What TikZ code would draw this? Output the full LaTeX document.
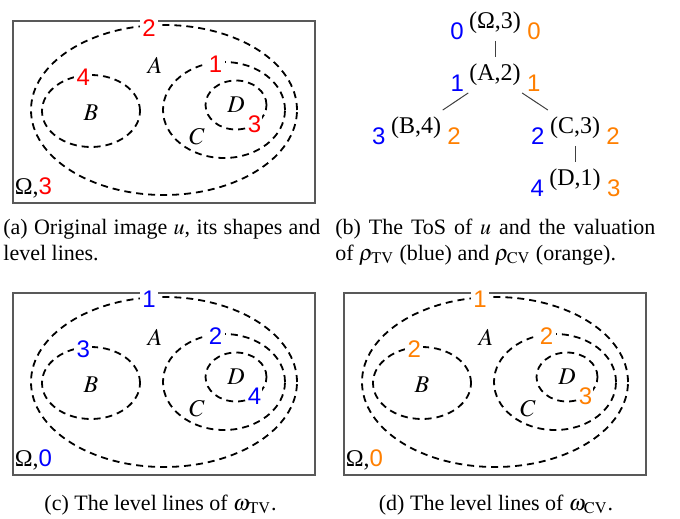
\documentclass[tikz,border=0pt]{standalone}
\usepackage{mathptmx}
\usepackage[no-math]{fontspec}
\setmainfont{Liberation Serif}
\newfontfamily\numfont{Liberation Sans}
\usetikzlibrary{shapes.geometric}

\definecolor{tvblue}{RGB}{0,0,255}
\definecolor{cvorange}{RGB}{255,127,0}
\definecolor{llred}{RGB}{255,0,0}

\tikzset{
  framebox/.style={draw=black!65, line width=0.6pt, minimum width=151pt, minimum height=91pt, inner sep=0},
  levelline/.style={draw, ellipse, dash pattern=on 3.5pt off 2.5pt, line width=0.9pt, inner sep=0},
  shapename/.style={font=\fontsize{12}{14}\selectfont},
  levelnum/.style={font=\numfont\fontsize{12}{14}\selectfont, fill=white, inner sep=1.2pt},
  treenode/.style={font=\fontsize{12}{14}\selectfont},
  tvnum/.style={font=\numfont\fontsize{12}{14}\selectfont, text=tvblue, inner sep=0, anchor=east},
  cvnum/.style={font=\numfont\fontsize{12}{14}\selectfont, text=cvorange, inner sep=0, anchor=west},
  treeedge/.style={draw=black!75, line width=0.5pt},
  captext/.style={font=\fontsize{11}{13}\selectfont, inner sep=0}
}

% one image with its shapes: name, shift, colour, values of Omega, A, B, C, D
\newcommand{\levelpanel}[8]{%
  \begin{scope}[shift={(#2)}]
    \node[framebox] (#1box) at (164,112) {};
    % level lines
    \node[levelline, minimum width=133pt, minimum height=85pt] (#1A) at (164,110) {};
    \node[levelline, minimum width=49pt, minimum height=36pt] (#1B) at (91,111) {};
    \node[levelline, minimum width=61pt, minimum height=48pt] (#1C) at (224,110) {};
    \node[levelline, minimum width=30.5pt, minimum height=24.5pt] (#1D) at (236,105) {};
    % shapes
    \node[shapename] (#1nA) at (155,65) {$A$};
    \node[shapename] (#1nB) at (91,113) {$B$};
    \node[shapename] (#1nC) at (197,137) {$C$};
    \node[shapename] (#1nD) at (236,105) {$D$};
    % values
    \node[levelnum, text=#3, yshift=-1.5pt] (#1vA) at (#1A.100) {#5};
    \node[levelnum, text=#3, yshift=-1.3pt] (#1vB) at (#1B.102) {#6};
    \node[levelnum, text=#3, yshift=-1.3pt] (#1vC) at (#1C.100) {#7};
    \node[levelnum, text=#3, inner sep=0.6pt, yshift=0.5pt] (#1vD) at (#1D.-48) {#8};
    \node[shapename, anchor=base west, inner sep=0] (#1vO) at ([xshift=1pt,yshift=4.5pt]#1box.south west) {Ω,{\numfont\color{#3}#4}};
  \end{scope}}

\begin{document}
\begin{tikzpicture}[x=0.5pt, y=-0.5pt]
    \useasboundingbox (0,0) rectangle (680,519);

    % (a) original image
    \levelpanel{a}{0,0}{llred}{3}{2}{4}{1}{3}

    % (b) tree of shapes
    \node[treenode] (root) at (495,23) {(Ω,3)};
    \node[treenode] (tA) at (495,75) {(A,2)};
    \node[treenode] (tB) at (416,128) {(B,4)};
    \node[treenode] (tC) at (575,128) {(C,3)};
    \node[treenode] (tD) at (575,180) {(D,1)};
    \draw[treeedge] (root) -- (tA);
    \draw[treeedge] (tA) -- (tB);
    \draw[treeedge] (tA) -- (tC);
    \draw[treeedge] (tC) -- (tD);

    % rho_TV and rho_CV
    \node[tvnum] (tvroot) at ([xshift=1pt,yshift=-4pt]root.west) {0};
    \node[cvnum] (cvroot) at ([xshift=-0.5pt,yshift=-4pt]root.east) {0};
    \node[tvnum] (tvA) at ([xshift=1pt,yshift=-4pt]tA.west) {1};
    \node[cvnum] (cvA) at ([xshift=-0.5pt,yshift=-4pt]tA.east) {1};
    \node[tvnum] (tvB) at ([xshift=1pt,yshift=-4pt]tB.west) {3};
    \node[cvnum] (cvB) at ([xshift=-0.5pt,yshift=-4pt]tB.east) {2};
    \node[tvnum] (tvC) at ([xshift=1pt,yshift=-4pt]tC.west) {2};
    \node[cvnum] (cvC) at ([xshift=-0.5pt,yshift=-4pt]tC.east) {2};
    \node[tvnum] (tvD) at ([xshift=1pt,yshift=-4pt]tD.west) {4};
    \node[cvnum] (cvD) at ([xshift=-0.5pt,yshift=-4pt]tD.east) {3};

    % (c) and (d) level lines of omega
    \levelpanel{c}{0,272}{tvblue}{0}{1}{3}{2}{4}
    \levelpanel{d}{331,272}{cvorange}{0}{1}{2}{2}{3}

    % captions
    \node[captext, anchor=base west] (capa1) at (3,234) {\makebox[158.5pt][s]{(a) Original image $u$, its shapes and}};
    \node[captext, anchor=base west] (capa2) at (3,260) {level lines.};
    \node[captext, anchor=base west] (capb1) at (335,234) {\makebox[160pt][s]{(b) The ToS of $u$ and the valuation}};
    \node[captext, anchor=base west] (capb2) at (335,260) {of $\rho_{\mathrm{TV}}$ (blue) and $\rho_{\mathrm{CV}}$ (orange).};
    \node[captext, anchor=base] (capc) at (160.5,510) {(c) The level lines of $\omega_{\mathrm{TV}}$.};
    \node[captext, anchor=base] (capd) at (496,510) {(d) The level lines of $\omega_{\mathrm{CV}}$.};
\end{tikzpicture}
\end{document}
